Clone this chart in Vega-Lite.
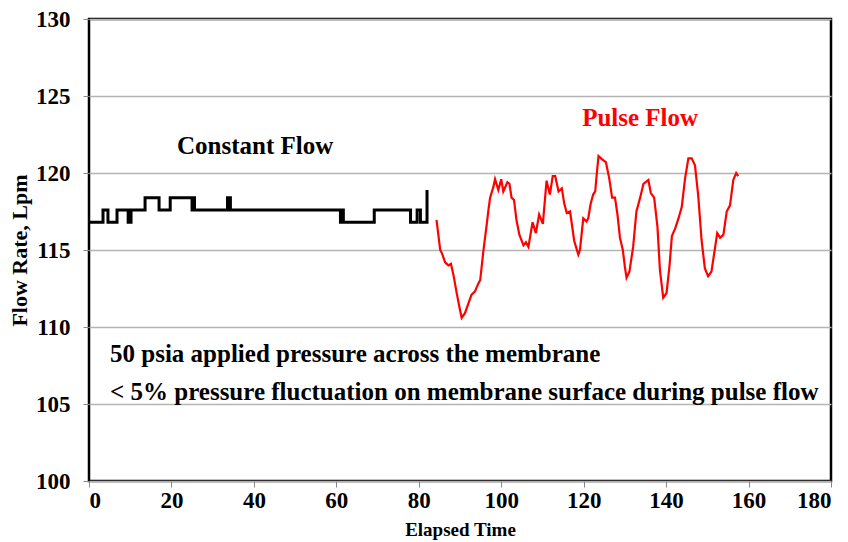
{
  "$schema": "https://vega.github.io/schema/vega-lite/v6.json",
  "width": 742,
  "height": 462,
  "autosize": {"type": "none"},
  "padding": {"left": 89, "top": 19, "right": 17, "bottom": 61},
  "background": "white",
  "config": {
    "view": {"stroke": "black", "strokeWidth": 2.5},
    "font": "Liberation Serif",
    "style": {
      "guide-label": {"font": "Liberation Serif", "fontWeight": "bold"},
      "guide-title": {"font": "Liberation Serif", "fontWeight": "bold"}
    },
    "axis": {
      "labelFont": "Liberation Serif",
      "labelFontWeight": "bold",
      "labelFontSize": 23,
      "labelColor": "black",
      "titleFont": "Liberation Serif",
      "titleFontWeight": "bold",
      "titleFontSize": 20,
      "titleColor": "black",
      "domain": false,
      "tickColor": "#888888",
      "tickSize": 6,
      "tickWidth": 1
    }
  },
  "layer": [
    {
      "data": {"values": [
        {"t": 0, "flow": 116.8}, {"t": 3.4, "flow": 117.6}, {"t": 4.6, "flow": 116.8},
        {"t": 6.8, "flow": 117.6}, {"t": 9.5, "flow": 116.8}, {"t": 10.2, "flow": 117.6},
        {"t": 13.6, "flow": 118.4}, {"t": 17.0, "flow": 117.6}, {"t": 19.7, "flow": 118.4},
        {"t": 25.0, "flow": 117.6}, {"t": 25.3, "flow": 118.4}, {"t": 25.6, "flow": 117.6},
        {"t": 33.6, "flow": 118.4}, {"t": 34.3, "flow": 117.6}, {"t": 61.0, "flow": 116.8},
        {"t": 61.4, "flow": 117.6}, {"t": 61.7, "flow": 116.8},
        {"t": 69.2, "flow": 117.6}, {"t": 78.0, "flow": 116.8}, {"t": 79.6, "flow": 117.6},
        {"t": 80.4, "flow": 116.8}, {"t": 82.0, "flow": 118.9}
      ]},
      "mark": {"type": "line", "color": "black", "strokeWidth": 3, "interpolate": "step-after"},
      "encoding": {
        "x": {"field": "t", "type": "quantitative", "scale": {"domain": [0, 180], "nice": false},
              "axis": {"values": [0, 20, 40, 60, 80, 100, 120, 140, 160, 180], "grid": false, "title": "Elapsed Time", "labelFont": "Liberation Serif", "labelFontWeight": "bold", "titleFont": "Liberation Serif", "titleFontSize": 19, "labelPadding": 2, "titlePadding": 8}},
        "y": {"field": "flow", "type": "quantitative", "scale": {"domain": [100, 130], "nice": false, "zero": false},
              "axis": {"values": [100, 105, 110, 115, 120, 125, 130], "grid": true, "gridColor": "#b4b4b4", "gridWidth": 1.5, "title": "Flow Rate, Lpm", "labelFont": "Liberation Serif", "labelFontWeight": "bold", "titleFont": "Liberation Serif", "titleFontSize": 22, "labelPadding": 13, "titlePadding": 4}}
      }
    },
    {
      "data": {"values": [
        {"t": 84.3, "flow": 116.95}, {"t": 85.2, "flow": 115.0}, {"t": 85.6, "flow": 114.8},
        {"t": 86.4, "flow": 114.2}, {"t": 87.2, "flow": 114.0}, {"t": 87.8, "flow": 114.1},
        {"t": 88.4, "flow": 113.4}, {"t": 89.2, "flow": 112.2}, {"t": 90.0, "flow": 111.1},
        {"t": 90.4, "flow": 110.6}, {"t": 91.2, "flow": 110.9}, {"t": 92.0, "flow": 111.5},
        {"t": 92.8, "flow": 112.1}, {"t": 93.6, "flow": 112.3}, {"t": 94.4, "flow": 112.8},
        {"t": 94.9, "flow": 113.05}, {"t": 95.7, "flow": 115.0}, {"t": 96.5, "flow": 116.7},
        {"t": 96.9, "flow": 117.6}, {"t": 97.3, "flow": 118.4}, {"t": 98.1, "flow": 119.1},
        {"t": 98.5, "flow": 119.6}, {"t": 99.3, "flow": 118.9}, {"t": 100.0, "flow": 119.6},
        {"t": 100.5, "flow": 118.8}, {"t": 101.5, "flow": 119.4}, {"t": 102.0, "flow": 119.3},
        {"t": 102.5, "flow": 118.4}, {"t": 103.1, "flow": 118.25}, {"t": 103.7, "flow": 116.95},
        {"t": 104.4, "flow": 116.0}, {"t": 105.4, "flow": 115.3}, {"t": 106.0, "flow": 115.5},
        {"t": 106.6, "flow": 115.2}, {"t": 107.6, "flow": 116.8}, {"t": 108.4, "flow": 116.1},
        {"t": 109.2, "flow": 117.3}, {"t": 110.1, "flow": 116.7}, {"t": 111.0, "flow": 119.5},
        {"t": 111.8, "flow": 118.6}, {"t": 112.5, "flow": 119.8}, {"t": 113.1, "flow": 119.8},
        {"t": 113.9, "flow": 118.8}, {"t": 114.7, "flow": 119.0}, {"t": 115.3, "flow": 118.0},
        {"t": 115.9, "flow": 117.4}, {"t": 116.7, "flow": 117.5}, {"t": 117.7, "flow": 115.6},
        {"t": 118.7, "flow": 114.7}, {"t": 119.1, "flow": 115.0}, {"t": 119.9, "flow": 117.05},
        {"t": 120.7, "flow": 116.85}, {"t": 121.1, "flow": 117.05}, {"t": 121.7, "flow": 118.0},
        {"t": 122.3, "flow": 118.6}, {"t": 122.8, "flow": 118.8}, {"t": 123.2, "flow": 120.0},
        {"t": 123.6, "flow": 121.1}, {"t": 124.4, "flow": 120.9}, {"t": 125.4, "flow": 120.7},
        {"t": 126.2, "flow": 119.65}, {"t": 126.9, "flow": 118.4}, {"t": 127.6, "flow": 118.4},
        {"t": 128.2, "flow": 117.3}, {"t": 128.8, "flow": 115.8}, {"t": 129.5, "flow": 115.0},
        {"t": 130.0, "flow": 113.9}, {"t": 130.4, "flow": 113.2}, {"t": 131.1, "flow": 113.6},
        {"t": 132.0, "flow": 115.2}, {"t": 132.8, "flow": 117.5}, {"t": 133.7, "flow": 118.4},
        {"t": 134.5, "flow": 119.3}, {"t": 135.7, "flow": 119.55}, {"t": 136.3, "flow": 118.7},
        {"t": 137.1, "flow": 118.4}, {"t": 137.9, "flow": 116.5}, {"t": 138.5, "flow": 113.7},
        {"t": 139.3, "flow": 111.9}, {"t": 140.1, "flow": 112.2}, {"t": 140.8, "flow": 113.9},
        {"t": 141.4, "flow": 115.9}, {"t": 142.2, "flow": 116.4}, {"t": 143.0, "flow": 117.05},
        {"t": 143.8, "flow": 117.8}, {"t": 144.6, "flow": 119.65}, {"t": 145.4, "flow": 120.95},
        {"t": 146.2, "flow": 120.95}, {"t": 147.0, "flow": 120.5}, {"t": 147.8, "flow": 118.5},
        {"t": 148.6, "flow": 115.65}, {"t": 149.4, "flow": 113.8}, {"t": 150.2, "flow": 113.3},
        {"t": 151.0, "flow": 113.6}, {"t": 151.9, "flow": 115.2}, {"t": 152.4, "flow": 116.1},
        {"t": 153.1, "flow": 115.8}, {"t": 153.9, "flow": 116.0}, {"t": 154.7, "flow": 117.5},
        {"t": 155.5, "flow": 117.9}, {"t": 156.3, "flow": 119.55}, {"t": 157.0, "flow": 120.0},
        {"t": 157.5, "flow": 119.8}
      ]},
      "mark": {"type": "line", "color": "#ff0000", "strokeWidth": 2.2},
      "encoding": {
        "x": {"field": "t", "type": "quantitative"},
        "y": {"field": "flow", "type": "quantitative"}
      }
    },
    {
      "data": {"values": [
        {"t": 40.3, "flow": 121.75, "label": "Constant Flow", "kind": "c"},
        {"t": 133.7, "flow": 123.6, "label": "Pulse Flow", "kind": "p"}
      ]},
      "mark": {"type": "text", "font": "Liberation Serif", "fontWeight": "bold", "fontSize": 25, "align": "center", "baseline": "middle"},
      "encoding": {
        "x": {"field": "t", "type": "quantitative"},
        "y": {"field": "flow", "type": "quantitative"},
        "text": {"field": "label"},
        "color": {"field": "kind", "type": "nominal", "scale": {"domain": ["c", "p"], "range": ["black", "#ff0000"]}, "legend": null}
      }
    },
    {
      "data": {"values": [
        {"t": 5.1, "flow": 108.25, "label": "50 psia applied pressure across the membrane"},
        {"t": 5.1, "flow": 105.8, "label": "< 5% pressure fluctuation on membrane surface during pulse flow"}
      ]},
      "mark": {"type": "text", "font": "Liberation Serif", "fontWeight": "bold", "fontSize": 25, "align": "left", "baseline": "middle", "color": "black"},
      "encoding": {
        "x": {"field": "t", "type": "quantitative"},
        "y": {"field": "flow", "type": "quantitative"},
        "text": {"field": "label"}
      }
    }
  ]
}
